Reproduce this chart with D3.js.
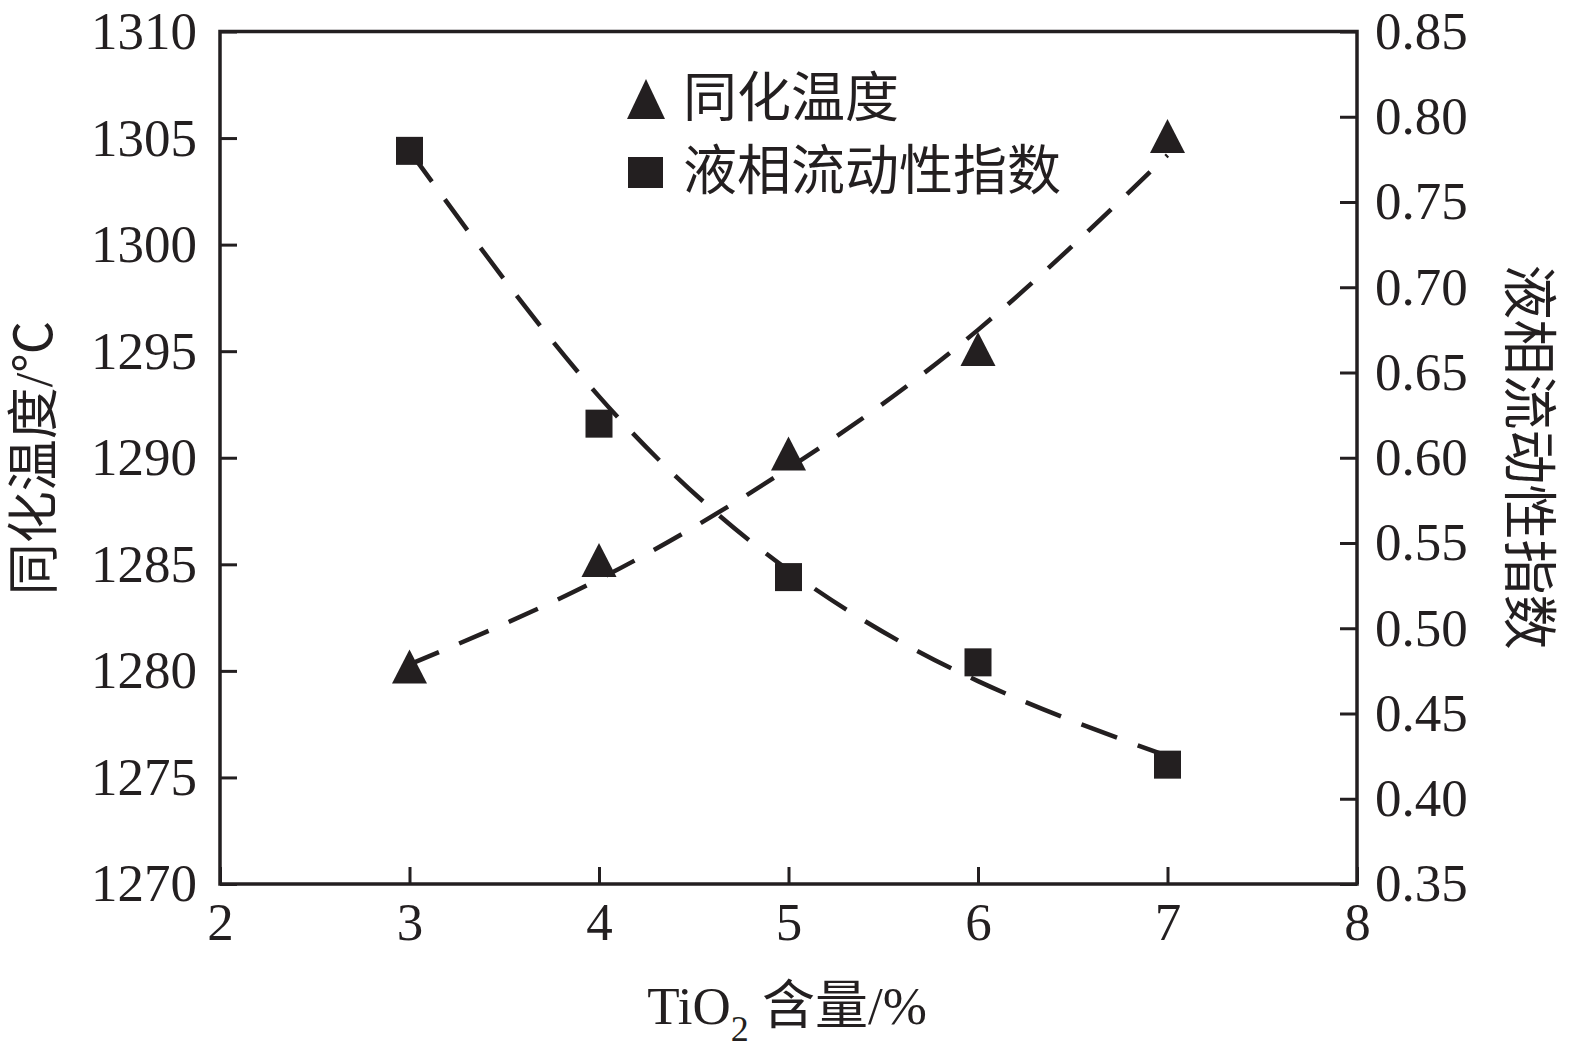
<!DOCTYPE html>
<html>
<head>
<meta charset="utf-8">
<script src="https://cdn.jsdelivr.net/npm/d3@7/dist/d3.min.js"></script>
<style>
  html, body { margin: 0; padding: 0; background: #fff; }
  svg { display: block; }
</style>
</head>
<body>
<svg id="chart" width="1575" height="1061"></svg>
<script>
// ---- data ----
const tio2 = [3, 4, 5, 6, 7];
const assimTemp = [1280.2, 1285.2, 1290.2, 1295.1, 1305.1];
const fluidity = [0.78, 0.62, 0.53, 0.48, 0.42];
// dashed trend curves
const tempFit = [1280.3, 1284.3, 1289.5, 1296.0, 1304.2];
const fluidFit = [0.780, 0.636, 0.534, 0.469, 0.425];

const xTicks = [2, 3, 4, 5, 6, 7, 8];
const yLeftTicks = [1270, 1275, 1280, 1285, 1290, 1295, 1300, 1305, 1310];
const yRightTicks = [0.35, 0.40, 0.45, 0.50, 0.55, 0.60, 0.65, 0.70, 0.75, 0.80, 0.85];

const legendLabels = ["同化温度", "液相流动性指数"];
const yLeftTitle = "同化温度/℃";
const yRightTitle = "液相流动性指数";

// ---- layout ----
const INK = "#231f20";
const serif = "'Liberation Serif', 'Times New Roman', serif";
const cjk = "'Liberation Serif', 'Noto Sans CJK SC', sans-serif";
const L = 220, R = 1357, T = 31.5, B = 884;

const svg = d3.select("#chart");
const x = d3.scaleLinear().domain([2, 8]).range([L, R]);
const yL = d3.scaleLinear().domain([1270, 1310]).range([B, T]);
const yR = d3.scaleLinear().domain([0.35, 0.85]).range([B, T]);

function styleAxis(g) {
  g.select(".domain").remove();
  g.selectAll(".tick line").attr("stroke", INK).attr("stroke-width", 3);
  g.selectAll(".tick text").attr("fill", INK)
    .style("font-family", serif).style("font-size", "53px");
}

svg.append("g").attr("transform", `translate(0,${B})`)
  .call(d3.axisBottom(x).tickValues(xTicks).tickFormat(d3.format("d"))
    .tickSize(-17).tickPadding(18))
  .call(styleAxis);

svg.append("g").attr("transform", `translate(${L},0)`)
  .call(d3.axisLeft(yL).tickValues(yLeftTicks).tickFormat(d3.format("d"))
    .tickSize(-17).tickPadding(23))
  .call(styleAxis);

svg.append("g").attr("transform", `translate(${R},0)`)
  .call(d3.axisRight(yR).tickValues(yRightTicks).tickFormat(d3.format(".2f"))
    .tickSize(-17).tickPadding(18))
  .call(styleAxis);

// frame
svg.append("rect").attr("x", L).attr("y", T).attr("width", R - L).attr("height", B - T)
  .attr("fill", "none").attr("stroke", INK).attr("stroke-width", 3.5);

// trend curves
const lineT = d3.line().x((d, i) => x(tio2[i])).y(d => yL(d)).curve(d3.curveNatural);
const lineF = d3.line().x((d, i) => x(tio2[i])).y(d => yR(d)).curve(d3.curveNatural);
svg.append("path").attr("d", lineT(tempFit)).attr("fill", "none")
  .attr("stroke", INK).attr("stroke-width", 4.5).attr("stroke-dasharray", "32 22");
svg.append("path").attr("d", lineF(fluidFit)).attr("fill", "none")
  .attr("stroke", INK).attr("stroke-width", 4.5).attr("stroke-dasharray", "38 22");

// markers
function triPath(cx, cy, hw, hh) {
  return `M${cx},${cy - hh}L${cx + hw},${cy + hh}L${cx - hw},${cy + hh}Z`;
}
svg.append("g").selectAll("path").data(assimTemp).join("path")
  .attr("d", (d, i) => triPath(x(tio2[i]), yL(d), 17.5, 17))
  .attr("fill", INK);
svg.append("g").selectAll("rect").data(fluidity).join("rect")
  .attr("x", (d, i) => x(tio2[i]) - 13.5).attr("y", d => yR(d) - 14)
  .attr("width", 27).attr("height", 28).attr("fill", INK);

// legend
const lg = svg.append("g");
lg.append("path").attr("d", triPath(646, 99, 19, 20)).attr("fill", INK);
lg.append("rect").attr("x", 628).attr("y", 157).attr("width", 35).attr("height", 31).attr("fill", INK);
lg.selectAll("text").data(legendLabels).join("text")
  .attr("x", 683).attr("y", (d, i) => i === 0 ? 99 : 172)
  .attr("dominant-baseline", "central")
  .attr("fill", INK)
  .style("font-family", cjk).style("font-size", "54px")
  .text(d => d);

// axis titles
svg.append("text")
  .attr("transform", `translate(34,458) rotate(-90)`)
  .attr("text-anchor", "middle").attr("dominant-baseline", "central")
  .attr("fill", INK).style("font-family", cjk).style("font-size", "52px")
  .text(yLeftTitle);

svg.append("text")
  .attr("transform", `translate(1528,457) rotate(90)`)
  .attr("text-anchor", "middle").attr("dominant-baseline", "central")
  .attr("fill", INK).style("font-family", cjk).style("font-size", "55px")
  .text(yRightTitle);

const xt = svg.append("text")
  .attr("x", 787).attr("y", 1024)
  .attr("text-anchor", "middle")
  .attr("fill", INK).style("font-family", cjk).style("font-size", "53px");
xt.append("tspan").text("TiO");
xt.append("tspan").attr("dy", 17).style("font-size", "36px").text("2");
xt.append("tspan").attr("dy", -17).text(" 含量/%");
</script>
</body>
</html>
